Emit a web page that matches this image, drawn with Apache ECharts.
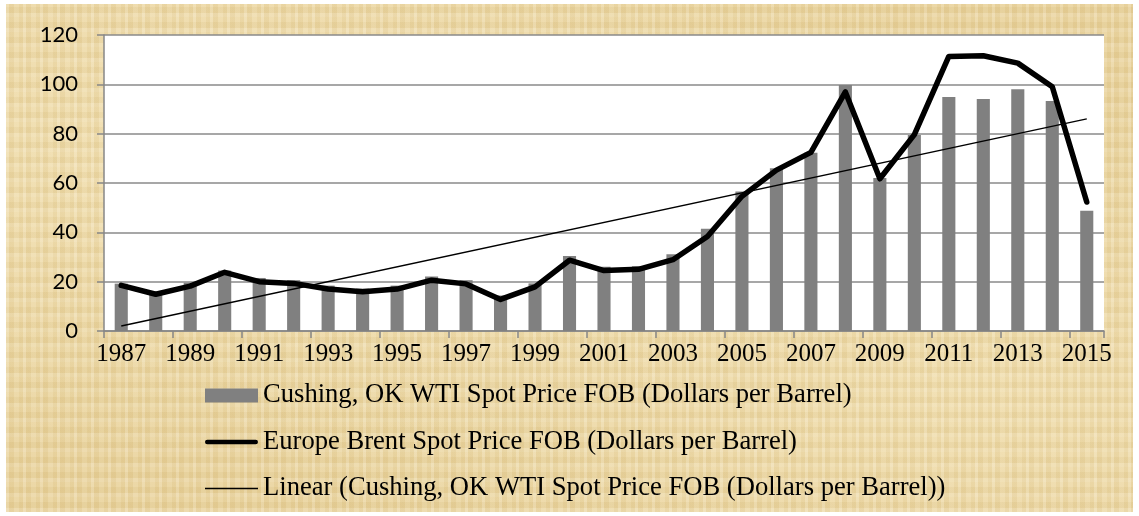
<!DOCTYPE html>
<html>
<head>
<meta charset="utf-8">
<title>WTI vs Brent</title>
<script src="https://cdn.jsdelivr.net/npm/echarts@6/dist/echarts.min.js"></script>
<style>
  html, body { margin: 0; padding: 0; background: #fff; }
  #paper {
    position: absolute; left: 6px; top: 4px; width: 1127px; height: 508px;
    background-color: #EAD49E;
    background-image:
      repeating-linear-gradient(90deg, rgba(255,255,255,0.14) 0 3px, rgba(170,130,50,0.07) 3px 8px, rgba(255,255,255,0.06) 8px 13px, rgba(160,120,40,0.05) 13px 17px),
      repeating-linear-gradient(0deg, rgba(255,255,255,0.12) 0 4px, rgba(165,125,45,0.06) 4px 10px, rgba(255,255,255,0.04) 10px 15px),
      radial-gradient(ellipse at 20% 30%, rgba(255,245,210,0.35), rgba(255,245,210,0) 60%),
      radial-gradient(ellipse at 85% 75%, rgba(255,245,210,0.3), rgba(255,245,210,0) 55%);
  }
  #chart { position: absolute; left: 0; top: 0; width: 1139px; height: 516px; }
</style>
</head>
<body>
<div id="paper"></div>
<div id="chart"></div>
<script>
// 年份
const years = ['1987', '1988', '1989', '1990', '1991', '1992', '1993', '1994', '1995', '1996',
  '1997', '1998', '1999', '2000', '2001', '2002', '2003', '2004', '2005', '2006',
  '2007', '2008', '2009', '2010', '2011', '2012', '2013', '2014', '2015'];
// WTI 柱子
const wti = [19.2, 16.0, 19.6, 24.5, 21.5, 20.6, 18.4, 17.2, 18.4, 22.1,
  20.6, 14.4, 19.3, 30.4, 26.0, 26.2, 31.1, 41.5, 56.6, 66.0,
  72.3, 99.7, 62.0, 79.5, 94.9, 94.1, 98.0, 93.2, 48.7];
// Brent 粗线
const brent = [18.5, 14.9, 18.2, 23.8, 20.0, 19.3, 17.0, 15.9, 17.0, 20.6,
  19.1, 12.8, 17.9, 28.7, 24.5, 25.0, 28.9, 38.3, 54.6, 65.2,
  72.4, 96.9, 61.7, 79.6, 111.3, 111.6, 108.6, 99.0, 52.3];
// 趋势线两端
const trendEnds = [2.0, 86.0];
const yTicks = [0, 20, 40, 60, 80, 100, 120];

const seriesNames = [
  'Cushing, OK WTI Spot Price FOB (Dollars per Barrel)',
  'Europe Brent Spot Price FOB (Dollars per Barrel)',
  'Linear (Cushing, OK WTI Spot Price FOB (Dollars per Barrel))'
];

const trend = years.map((y, i) => i === 0 ? trendEnds[0] : (i === years.length - 1 ? trendEnds[1] : null));

// 图例里的线条图标（粗线 / 细线），带上下空白撑满 53x14
const thickIcon = 'path://M0,0 L0,0 M1,4.5 L52,4.5 A2.5,2.5 0 0 1 52,9.5 L1,9.5 A2.5,2.5 0 0 1 1,4.5 Z M53,14 L53,14';
const thinIcon = 'path://M0,0 L0,0 M0,6.3 L53,6.3 L53,7.7 L0,7.7 Z M53,14 L53,14';

const serif = '"Liberation Serif", "Times New Roman", serif';
const chart = echarts.init(document.getElementById('chart'), null, { renderer: 'canvas' });
chart.setOption({
  backgroundColor: 'transparent',
  animation: false,
  grid: {
    left: 104, top: 35, width: 1000, height: 296,
    show: true, backgroundColor: '#ffffff', borderWidth: 0
  },
  legend: {
    orient: 'vertical',
    left: 200, top: 377,
    itemWidth: 53, itemHeight: 14, itemGap: 19.5,
    textStyle: { fontFamily: serif, fontSize: 26.6, lineHeight: 26, color: '#000' },
    data: [
      { name: seriesNames[0], icon: 'rect', itemStyle: { color: '#808080' } },
      { name: seriesNames[1], icon: thickIcon, itemStyle: { color: '#000' } },
      { name: seriesNames[2], icon: thinIcon, itemStyle: { color: '#000' } }
    ]
  },
  xAxis: {
    type: 'category',
    data: years,
    boundaryGap: true,
    axisLine: { lineStyle: { color: '#878787', width: 1.5 } },
    axisTick: { show: true, interval: 1, length: 7, lineStyle: { color: '#878787', width: 1.5 } },
    axisLabel: { interval: 1, margin: 11, fontFamily: serif, fontSize: 25, color: '#000' },
    splitLine: { show: false }
  },
  yAxis: {
    type: 'value',
    min: yTicks[0], max: yTicks[yTicks.length - 1], interval: 20,
    axisLine: { show: true, lineStyle: { color: '#878787', width: 1.5 } },
    axisTick: { show: true, length: 7, lineStyle: { color: '#878787', width: 1.5 } },
    axisLabel: { margin: 26, fontFamily: 'Lato, "Open Sans", sans-serif', fontSize: 22, color: '#000' },
    splitLine: { lineStyle: { color: '#8a8a8a', width: 1.5 } }
  },
  series: [
    {
      name: seriesNames[0],
      type: 'bar',
      data: wti,
      barWidth: '38%',
      itemStyle: { color: '#808080' },
      z: 2
    },
    {
      name: seriesNames[1],
      type: 'line',
      data: brent,
      symbol: 'none',
      lineStyle: { color: '#000', width: 5.5, cap: 'round', join: 'round' },
      itemStyle: { color: '#000' },
      z: 4
    },
    {
      name: seriesNames[2],
      type: 'line',
      data: trend,
      connectNulls: true,
      symbol: 'none',
      lineStyle: { color: '#000', width: 1.5 },
      itemStyle: { color: '#000' },
      z: 3
    }
  ]
});
</script>
</body>
</html>
